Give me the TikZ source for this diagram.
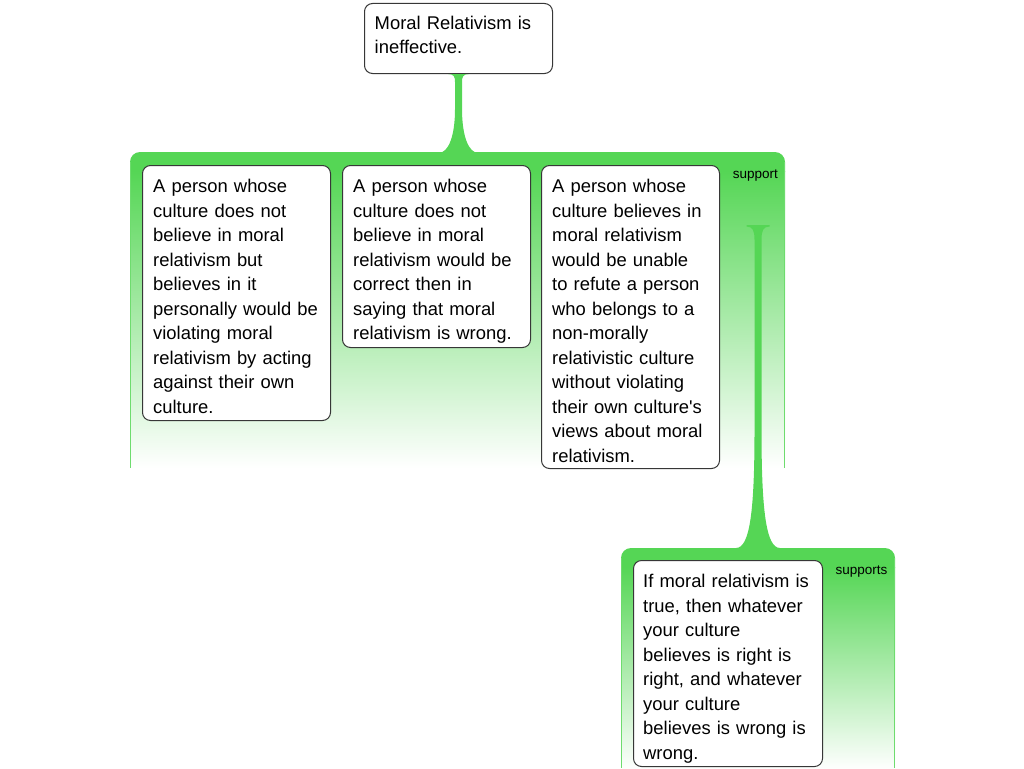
\documentclass[tikz,border=0pt]{standalone}
\usepackage{fontspec}
\setmainfont{Liberation Sans}
\definecolor{grp}{RGB}{85,214,85}
\definecolor{bord}{RGB}{55,55,55}
\tikzset{
  claim/.style={draw=bord, line width=1pt, rounded corners=8pt, fill=white, anchor=north west, inner sep=0pt},
  txt/.style={anchor=base west, inner sep=0pt, text width=200pt, align=left, font=\fontsize{18.4}{24.5}\selectfont},
  lbl/.style={inner sep=0pt, anchor=base, font=\fontsize{13.5}{16}\selectfont},
  link/.style={fill=grp, draw=none},
  edge/.style={draw=grp!85, line width=1pt},
}
\begin{document}
\begin{tikzpicture}[x=1pt,y=-1pt]
\useasboundingbox (0,0) rectangle (1024,768);
% ---- group 1
\fill[grp] (130,172) -- (130,162) .. controls (130,156.5) and (134.5,152) .. (140,152) -- (775,152) .. controls (780.5,152) and (785,156.5) .. (785,162) -- (785,172) -- cycle;
\shade[top color=grp, bottom color=white] (130,171) rectangle (785,468);
\draw[edge] (130.5,162) -- (130.5,468);
\draw[edge] (784.5,162) -- (784.5,468);
% ---- group 2
\fill[grp] (621,568) -- (621,558) .. controls (621,552.5) and (625.5,548) .. (631,548) -- (885,548) .. controls (890.5,548) and (895,552.5) .. (895,558) -- (895,568) -- cycle;
\shade[top color=grp, bottom color=white] (621,567) rectangle (895,770);
\draw[edge] (621.5,558) -- (621.5,768);
\draw[edge] (894.5,558) -- (894.5,768);
% ---- claims
\node[claim, minimum width=188pt, minimum height=70pt] (t0) at (364,3) {};
\node[claim, minimum width=188pt, minimum height=255pt] (b1) at (142,165) {};
\node[claim, minimum width=188pt, minimum height=182pt] (b2) at (342,165) {};
\node[claim, minimum width=178pt, minimum height=303pt] (b3) at (541,165) {};
\node[claim, minimum width=189pt, minimum height=206pt] (b4) at (633,560) {};
\coordinate (g1top) at (458,152);
\coordinate (s2) at (758,225);
\coordinate (g2top) at (758,548);
% ---- connector 1: t0 -> group 1
\begin{scope}[shift={(t0.south)}]
\fill[link] (-10.5,0) .. controls (-4.5,0) and (-3.5,3) .. (-3.5,8) -- (-3.5,35)
  .. controls (-3.5,62) and (-10,79) .. (-20,79) -- (20,79)
  .. controls (10,79) and (3.5,62) .. (3.5,35) -- (3.5,8)
  .. controls (3.5,3) and (4.5,0) .. (10.5,0) -- cycle;
\end{scope}
% ---- connector 2: group 1 -> group 2
\begin{scope}[shift={(s2)}]
\fill[link] (-11.5,0) -- (11.5,0) -- (11.5,1.5) .. controls (5,1.5) and (3.5,6) .. (3.5,15)
  -- (3.5,205) .. controls (3.5,285) and (8,323) .. (22,323) -- (-22,323)
  .. controls (-8,323) and (-3.5,285) .. (-3.5,205) -- (-3.5,15)
  .. controls (-3.5,6) and (-5,1.5) .. (-11.5,1.5) -- cycle;
\end{scope}
% ---- texts
\node[txt] (x0) at (374.5,29.5) {Moral Relativism is\\ineffective.};
\node[txt] (x1) at (153,192.5) {A person whose\\culture does not\\believe in moral\\relativism but\\believes in it\\personally would be\\violating moral\\relativism by acting\\against their own\\culture.};
\node[txt] (x2) at (353,192.5) {A person whose\\culture does not\\believe in moral\\relativism would be\\correct then in\\saying that moral\\relativism is wrong.};
\node[txt] (x3) at (552,192.5) {A person whose\\culture believes in\\moral relativism\\would be unable\\to refute a person\\who belongs to a\\non-morally\\relativistic culture\\without violating\\their own culture\textquotesingle s\\views about moral\\relativism.};
\node[txt] (x4) at (643,587.5) {If moral relativism is\\true, then whatever\\your culture\\believes is right is\\right, and whatever\\your culture\\believes is wrong is\\wrong.};
\node[lbl] (l1) at (755.3,178) {support};
\node[lbl] (l2) at (861.6,574.5) {supports};
\end{tikzpicture}
\end{document}
